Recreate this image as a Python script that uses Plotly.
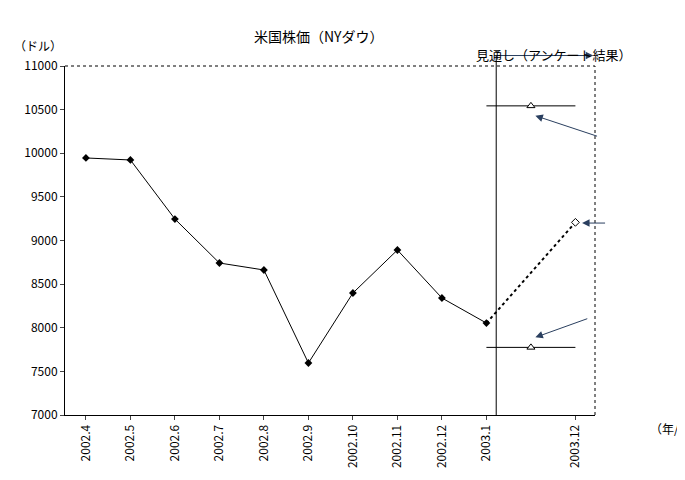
import plotly.graph_objects as go

months = ["2002.4","2002.5","2002.6","2002.7","2002.8","2002.9","2002.10","2002.11","2002.12","2003.1"]
values = [9946, 9923, 9246, 8742, 8662, 7596, 8398, 8891, 8341, 8054]
forecast_end = 9208
forecast_high = 10543
forecast_low = 7775
tick_labels = months + ["2003.12"]
tick_pos = list(range(10)) + [11]

F = "Noto Sans CJK JP"
fig = go.Figure()
fig.add_trace(go.Scatter(x=list(range(10)), y=values, mode="lines+markers",
    line=dict(color="black", width=1), marker=dict(symbol="diamond", size=6, color="black")))
fig.add_trace(go.Scatter(x=[9, 11], y=[values[-1], forecast_end], mode="lines",
    line=dict(color="black", width=2, dash="dot")))
fig.add_trace(go.Scatter(x=[11], y=[forecast_end], mode="markers",
    marker=dict(symbol="diamond", size=6, color="white", line=dict(color="black", width=1))))
for v in (forecast_high, forecast_low):
    fig.add_trace(go.Scatter(x=[9, 11], y=[v, v], mode="lines", line=dict(color="black", width=1)))
fig.add_trace(go.Scatter(x=[10, 10], y=[forecast_high, forecast_low], mode="markers",
    marker=dict(symbol="triangle-up", size=7, color="white", line=dict(color="black", width=1))))

fig.add_shape(type="line", xref="x", yref="paper", x0=9.22, x1=9.22, y0=0, y1=1.03, line=dict(color="black", width=1))
fig.add_shape(type="line", xref="paper", yref="paper", x0=0, x1=1, y0=1, y1=1, line=dict(color="black", width=1, dash="dot"))
fig.add_shape(type="line", xref="paper", yref="paper", x0=1, x1=1, y0=0, y1=1, line=dict(color="black", width=1, dash="dot"))

ann = []
ann.append(dict(xref="x", yref="y domain", x=11.4, y=1.03, ax=9.22, ay=1.03, axref="x", ayref="y domain",
    showarrow=True, arrowhead=2, arrowsize=1.5, arrowwidth=1, text=""))
ann.append(dict(xref="x", yref="paper", x=10.5, y=1.065, text="見通し（アンケート結果）", showarrow=False,
    font=dict(size=13)))
ann.append(dict(xref="x", yref="y", x=10.1, y=10430, ax=11.52, ay=10190, axref="x", ayref="y",
    showarrow=True, arrowhead=2, arrowsize=1.5, arrowwidth=1, text=""))
ann.append(dict(xref="x", yref="y", x=11.15, y=9200, ax=11.7, ay=9200, axref="x", ayref="y",
    showarrow=True, arrowhead=2, arrowsize=1.5, arrowwidth=1, text=""))
ann.append(dict(xref="x", yref="y", x=10.1, y=7890, ax=11.3, ay=8110, axref="x", ayref="y",
    showarrow=True, arrowhead=2, arrowsize=1.5, arrowwidth=1, text=""))
ann.append(dict(xref="x", yref="y", x=11.95, y=9990, text="10543ドル<br>（2003年最高値）", showarrow=False, align="left", font=dict(size=12)))
ann.append(dict(xref="x", yref="y", x=12.1, y=9020, text="9208ドル<br>（2003年末）", showarrow=False, align="left", font=dict(size=12)))
ann.append(dict(xref="x", yref="y", x=11.95, y=8290, text="7775ドル<br>（2003年最安値）", showarrow=False, align="left", font=dict(size=12)))
ann.append(dict(xref="paper", yref="paper", x=-0.1, y=1.09, text="（ドル）", showarrow=False, font=dict(size=12)))
ann.append(dict(xref="paper", yref="paper", x=1.1, y=-0.07, text="（年/月末）", showarrow=False, xanchor="left", font=dict(size=12)))
ann.append(dict(xref="paper", yref="paper", x=0.48, y=1.12, text="米国株価（NYダウ）", showarrow=False, font=dict(size=14)))

fig.update_layout(width=685, height=480, margin=dict(l=57, r=98, t=58, b=73),
    paper_bgcolor="white", plot_bgcolor="white", showlegend=False,
    font=dict(family=F, color="black", size=12), annotations=ann)
fig.update_xaxes(range=[-0.47, 11.44], tickvals=tick_pos, ticktext=tick_labels, tickangle=-90,
    showgrid=False, zeroline=False, showline=True, linecolor="black", ticks="outside", ticklen=4)
fig.update_yaxes(range=[7000, 11000], dtick=500, showgrid=False, zeroline=False, showline=True,
    linecolor="black", ticks="outside", ticklen=4, tickformat="d")
fig.write_html("out.html")
